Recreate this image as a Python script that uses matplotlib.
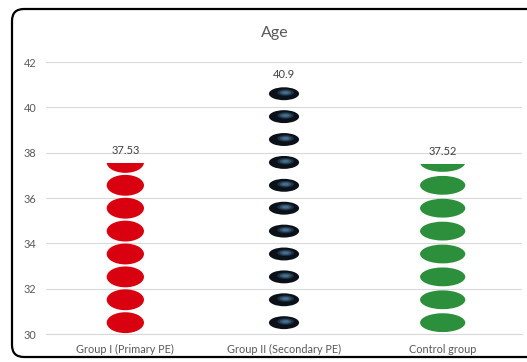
import numpy as np
import matplotlib
matplotlib.use("Agg")
from matplotlib import pyplot as plt
from matplotlib.patches import Ellipse, FancyBboxPatch

plt.rcParams['font.family'] = ['Lato', 'DejaVu Sans']

groups = ['Group I (Primary PE)', 'Group II (Secondary PE)', 'Control group']
age = [37.53, 40.9, 37.52]
value_labels = ['37.53', '40.9', '37.52']

# picture-stack look of each column: fill colour, ellipse width/height (data units)
fills = ['#d9000f', '#0b1119', '#2b8f3b']
widths = [0.235, 0.19, 0.285]
heights = [0.92, 0.57, 0.83]

fig = plt.figure(figsize=(5.27, 3.62), dpi=100)
ax = fig.add_axes([46 / 527, 1 - 334 / 362, 476 / 527, 272 / 362])

x = np.arange(len(groups))
bars = ax.bar(x, [a - 30 for a in age], bottom=30, width=0.3, color='none',
              edgecolor='none', zorder=2)

for i, bar in enumerate(bars):
    top = age[i]
    w, h = widths[i], heights[i]
    ys = np.arange(30.5, top + 0.5, 1.01)
    for yc in ys:
        e = Ellipse((x[i], yc), w, h, facecolor=fills[i], edgecolor='none', zorder=3)
        ax.add_patch(e)
        e.set_clip_path(bar)
        if i == 1:
            # glossy blue highlight on the dark beads
            for k, a in zip([0.55, 0.38, 0.22], [0.25, 0.35, 0.45]):
                hl = Ellipse((x[i] + 0.01, yc + 0.05), w * k, h * k * 0.9,
                             facecolor='#5b93c0', edgecolor='none', alpha=a, zorder=4)
                ax.add_patch(hl)
                hl.set_clip_path(bar)
    ax.annotate(value_labels[i], (x[i], top), xytext=(0, 5), textcoords='offset points',
                ha='center', va='bottom', fontsize=8, color='#404040')

ax.set_xlim(-0.5, 2.5)
ax.set_ylim(30, 42)
ax.set_yticks(range(30, 43, 2))
ax.set_xticks(x)
ax.set_xticklabels(groups)
ax.grid(axis='y', color='#d9d9d9', linewidth=0.8, zorder=0)
ax.set_axisbelow(True)
for s in ['top', 'right', 'left']:
    ax.spines[s].set_visible(False)
ax.spines['bottom'].set_color('#d9d9d9')
ax.spines['bottom'].set_linewidth(0.8)
ax.tick_params(axis='both', length=0, colors='#595959', labelsize=7.8)
ax.tick_params(axis='y', pad=7)
ax.tick_params(axis='x', pad=7)

fig.text(275 / 527, 1 - 33 / 362, 'Age', ha='center', va='center',
         fontsize=11.5, color='#595959')

# rounded chart border
frame = FancyBboxPatch((0.12, 0.05), 5.5, 3.48, boxstyle='round,pad=0,rounding_size=0.12',
                       transform=fig.dpi_scale_trans, facecolor='none',
                       edgecolor='black', linewidth=1.6)
fig.patches.append(frame)

fig.savefig('out.png', dpi=100)
